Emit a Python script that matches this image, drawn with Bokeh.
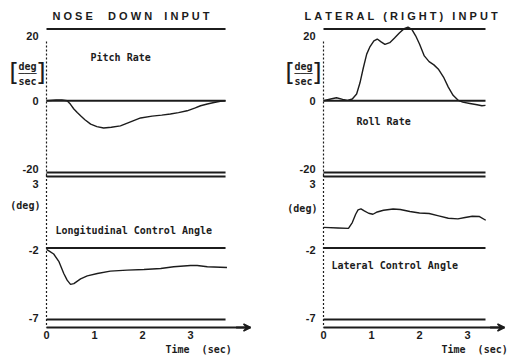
from bokeh.plotting import figure
from bokeh.models import Range1d, Label, Arrow, VeeHead
from bokeh.core.properties import value
from bokeh.embed import file_html
from bokeh.resources import INLINE

# ---------------- data ----------------
pitch_t = [0, 0.2, 0.32, 0.43, 0.5, 0.57, 0.64, 0.71, 0.8, 0.92, 1.05, 1.19, 1.35,
           1.54, 1.75, 1.96, 2.2, 2.4, 2.58, 2.75, 2.93, 3.1, 3.21, 3.35, 3.49, 3.62, 3.73]
pitch_v = [0, 0.2, 0.25, 0, -1.0, -2.3, -3.3, -4.2, -5.3, -6.5, -7.2, -7.6, -7.4,
           -7.0, -5.9, -4.8, -4.3, -4.0, -3.7, -3.3, -2.8, -2.0, -1.4, -0.9, -0.5, -0.15, 0]

long_t = [0, 0.05, 0.15, 0.26, 0.36, 0.43, 0.5, 0.57, 0.71, 0.85, 1.06, 1.33, 1.68,
          2.03, 2.38, 2.65, 3.0, 3.14, 3.35, 3.76]
long_v = [-2.1, -2.2, -2.42, -2.96, -3.78, -4.25, -4.54, -4.49, -4.16, -3.95, -3.78,
          -3.62, -3.55, -3.5, -3.43, -3.31, -3.22, -3.22, -3.31, -3.36]

roll_t = [0, 0.15, 0.27, 0.4, 0.5, 0.6, 0.69, 0.76, 0.83, 0.9, 0.97, 1.05, 1.12, 1.2,
          1.28, 1.38, 1.48, 1.58, 1.68, 1.76, 1.84, 1.92, 2.0, 2.1, 2.2, 2.3, 2.4, 2.5,
          2.6, 2.7, 2.8, 2.9, 3.05, 3.2, 3.3, 3.375]
roll_v = [0, 0.5, 0.85, 0.4, 0.1, 0.5, 1.9, 5.0, 9.2, 13.0, 15.1, 16.7, 17.2, 16.4,
          15.7, 16.2, 17.5, 18.9, 20.1, 20.5, 19.9, 18.1, 15.8, 12.5, 10.9, 10.0, 8.7, 6.6,
          3.8, 1.5, 0.2, -0.4, -0.75, -1.1, -1.4, -1.3]

lat_t = [0, 0.3, 0.52, 0.6, 0.67, 0.72, 0.78, 0.85, 0.94, 1.03, 1.12, 1.25, 1.45, 1.6,
         1.8, 2.0, 2.2, 2.4, 2.6, 2.8, 2.95, 3.1, 3.25, 3.38]
lat_v = [-0.56, -0.6, -0.63, -0.22, 0.36, 0.66, 0.73, 0.59, 0.43, 0.36, 0.52, 0.64, 0.73,
         0.69, 0.55, 0.45, 0.41, 0.25, 0.08, 0.04, 0.13, 0.22, 0.2, -0.06]

rate_levels = [20, 0, -20]
rate_tick_labels = ["20", "0", "-20"]
angle_levels = [3, -2, -7]
angle_tick_labels = ["3", "-2", "-7"]
time_ticks = [0, 1, 2, 3]
time_tick_labels = ["0", "1", "2", "3"]
left_record_end = 3.73
right_record_end = 3.375

NB = "\u00a0"
left_title = NB.join("NOSE") + NB * 5 + NB.join("DOWN") + NB * 4 + NB.join("INPUT")
right_title = (NB.join("LATERAL") + NB * 3 + NB.join("(RIGHT)") + NB * 3
               + NB.join("INPUT"))
time_label = "Time" + NB * 2 + "(sec)"

# ---------------- scales (one canvas, one scale per column / panel) ----------------
W, H = 512, 361
PX_PER_SEC = 48.0
L_ORIGIN, R_ORIGIN = 46, 323            # screen x of t = 0
RATE_ZERO, RATE_PX = 100.25, 3.5875     # screen y of 0 deg/s, px per deg/s
ANG_REF, ANG_PX = 247.5, 14.3           # screen y of -2 deg, px per deg

left_x = Range1d(-L_ORIGIN / PX_PER_SEC, (W - L_ORIGIN) / PX_PER_SEC)
right_x = Range1d(-R_ORIGIN / PX_PER_SEC, (W - R_ORIGIN) / PX_PER_SEC)
rate_y = Range1d(-(H - RATE_ZERO) / RATE_PX, RATE_ZERO / RATE_PX)
angle_y = Range1d(-2 - (H - ANG_REF) / ANG_PX, -2 + ANG_REF / ANG_PX)

INK = "#1c1c1c"
MONO = "DejaVu Sans Mono"
SANS = "Liberation Sans"
AXIS_BOTTOM = -7.56

p = figure(width=W, height=H, x_range=left_x, y_range=rate_y,
           x_axis_location=None, y_axis_location=None, min_border=0,
           output_backend="svg", toolbar_location=None, title=None)
p.extra_x_ranges = {"right": right_x}
p.extra_y_ranges = {"angle": angle_y}
p.outline_line_color = None
p.grid.visible = False
p.background_fill_color = "white"
p.border_fill_color = "white"


def rn(xr, yr):
    d = {}
    if xr:
        d["x_range_name"] = xr
    if yr:
        d["y_range_name"] = yr
    return d


def label(x, y, s, xr=None, yr=None, size="10px", font=MONO, align="left",
          style="bold", dx=0, dy=0):
    p.add_layout(Label(x=x, y=y, text=s, x_offset=dx, y_offset=dy, text_align=align,
                       text_baseline="middle", text_font=font, text_font_style=style,
                       text_font_size=size, text_color=INK, **rn(xr, yr)))


def levels(vals, labels, dys, end, xr, yr):
    n = len(vals)
    p.segment(x0=[0] * n, y0=vals, x1=[end] * n, y1=vals, line_color=INK,
              line_width=1.8, **rn(xr, yr))
    for v, s, dy in zip(vals, labels, dys):
        label(0, v, s, xr, yr, size="11px", font=SANS, align="right", dx=-8, dy=dy)


def unit_fraction(x, xr):
    label(x, 9.55, "deg", xr, None, align="center")
    label(x, 7.6, "\u2500\u2500\u2500", xr, None, align="center", style="normal")
    label(x, 5.37, "sec", xr, None, align="center")
    label(x - 0.28, 7.9, "[", xr, None, size="25px", font="DejaVu Sans",
          align="center", style="normal")
    label(x + 0.28, 7.9, "]", xr, None, size="25px", font="DejaVu Sans",
          align="center", style="normal")


def time_axis(x_end, xr):
    p.segment(x0=[0], y0=[AXIS_BOTTOM], x1=[x_end], y1=[AXIS_BOTTOM], line_color=INK,
              line_width=2, **rn(xr, "angle"))
    p.add_layout(Arrow(end=VeeHead(size=7, line_color=INK, line_width=1.5, fill_color=INK),
                       x_start=x_end - 0.3, y_start=AXIS_BOTTOM, x_end=x_end,
                       y_end=AXIS_BOTTOM, line_color=INK, line_width=2,
                       **rn(xr, "angle")))
    p.text(x=time_ticks, y=[-8.05] * len(time_ticks), text=time_tick_labels,
           text_align="center", text_baseline="middle", text_font=value(SANS),
           text_font_style="bold", text_font_size="11px", text_color=INK,
           **rn(xr, "angle"))


def y_axis_line(xr):
    p.segment(x0=[0], y0=[16.5], x1=[0], y1=[-21.0], line_color=INK, line_width=1.2,
              line_dash="2 2", **rn(xr, None))
    p.segment(x0=[0], y0=[3.1], x1=[0], y1=[AXIS_BOTTOM], line_color=INK, line_width=1.2,
              line_dash="2 2", **rn(xr, "angle"))


rate_dy = [-7, 0, 4]
angle_dy = [-7, -2, 2]

# ---------------- left column: nose down input ----------------
y_axis_line(None)
levels(rate_levels, rate_tick_labels, rate_dy, left_record_end, None, None)
levels(angle_levels, angle_tick_labels, angle_dy, left_record_end, None, "angle")
time_axis(204 / PX_PER_SEC, None)
p.line(pitch_t, pitch_v, line_color=INK, line_width=1.4)
p.line(long_t, long_v, line_color=INK, line_width=1.4, y_range_name="angle")
label(0.125, 23.76, left_title, size="11px", font=SANS)
label(0.917, 12.06, "Pitch Rate")
unit_fraction(-0.396, None)
label(-0.44, 0.97, "(deg)", None, "angle", align="center")
label(0.1875, -0.78, "Longitudinal Control Angle", None, "angle")
label(2.479, -9.12, time_label, None, "angle", size="10px")

# ---------------- right column: lateral (right) input ----------------
y_axis_line("right")
levels(rate_levels, rate_tick_labels, rate_dy, right_record_end, "right", None)
levels(angle_levels, angle_tick_labels, angle_dy, right_record_end, "right", "angle")
time_axis(181 / PX_PER_SEC, "right")
p.line(roll_t, roll_v, line_color=INK, line_width=1.4, x_range_name="right")
p.line(lat_t, lat_v, line_color=INK, line_width=1.4, x_range_name="right",
       y_range_name="angle")
label(-0.396, 23.76, right_title, "right", None, size="11px", font=SANS)
label(0.6875, -5.78, "Roll Rate", "right", None)
unit_fraction(-0.417, "right")
label(-0.44, 0.76, "(deg)", "right", "angle", align="center")
label(0.167, -3.22, "Lateral Control Angle", "right", "angle")
label(2.458, -9.12, time_label, "right", "angle", size="10px")

with open("out.html", "w") as f:
    f.write(file_html(p, INLINE))
